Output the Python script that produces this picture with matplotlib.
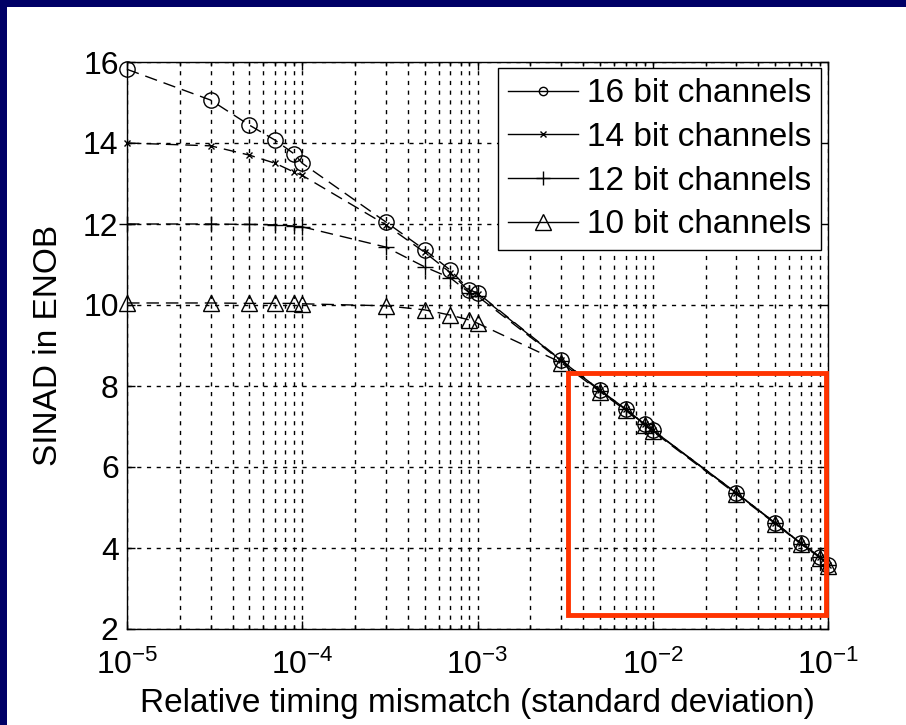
import matplotlib
matplotlib.use('Agg')
import matplotlib.pyplot as plt
from matplotlib.lines import Line2D
from matplotlib.patches import Rectangle
from matplotlib.ticker import LogLocator

plt.rcParams['font.family'] = ['Liberation Sans', 'DejaVu Sans']
plt.rcParams['mathtext.fontset'] = 'custom'
plt.rcParams['mathtext.rm'] = 'Liberation Sans'
plt.rcParams['mathtext.it'] = 'Liberation Sans:italic'
plt.rcParams['mathtext.bf'] = 'Liberation Sans:bold'

# timing mismatch (std dev) and ENOB for each channel resolution
mismatch = [1e-5, 3e-5, 5e-5, 7e-5, 9e-5, 1e-4, 3e-4, 5e-4, 7e-4, 9e-4, 1e-3,
            3e-3, 5e-3, 7e-3, 9e-3, 1e-2, 3e-2, 5e-2, 7e-2, 9e-2, 1e-1]
enob16 = [15.82, 15.06, 14.44, 14.07, 13.73, 13.5, 12.05, 11.36, 10.86, 10.37, 10.3,
          8.64, 7.9, 7.43, 7.06, 6.91, 5.36, 4.62, 4.12, 3.78, 3.58]
enob14 = [14.0, 13.93, 13.7, 13.5, 13.28, 13.2, 11.98, 11.3, 10.8, 10.33, 10.28,
          8.63, 7.9, 7.43, 7.06, 6.91, 5.36, 4.62, 4.12, 3.78, 3.58]
enob12 = [12.0, 12.0, 11.99, 11.98, 11.95, 11.93, 11.43, 10.94, 10.67, 10.3, 10.22,
          8.62, 7.88, 7.42, 7.05, 6.9, 5.35, 4.61, 4.11, 3.77, 3.57]
enob10 = [10.05, 10.05, 10.04, 10.04, 10.04, 10.03, 9.98, 9.88, 9.75, 9.63, 9.55,
          8.58, 7.86, 7.4, 7.03, 6.88, 5.33, 4.6, 4.1, 3.76, 3.55]
labels = ['16 bit channels', '14 bit channels', '12 bit channels', '10 bit channels']

# red highlight box (data coords)
box_x = [3.3e-3, 9.75e-2]
box_y = [2.35, 8.32]

fig = plt.figure(figsize=(9.06, 7.25), dpi=100)
fig.patch.set_facecolor('#000066')
fig.add_artist(Rectangle((7 / 906, 0), 1, (725 - 7) / 725, transform=fig.transFigure,
                         facecolor='white', edgecolor='none', zorder=-10))

ax = fig.add_axes([127 / 906, 96 / 725, 701 / 906, 567 / 725])
dash = (0, (9, 5))
styles = [
    dict(marker='o', ms=11, mfc='none'),
    dict(marker='x', ms=5),
    dict(marker='+', ms=12),
    dict(marker='^', ms=12, mfc='none'),
]
leg_ms = [6, 5, 10, 11]
series = [enob16, enob14, enob12, enob10]
for y, st in zip(series, styles):
    ax.plot(mismatch, y, color='black', lw=1, ls=dash, mec='black', mew=1, clip_on=False, **st)

ax.set_xscale('log')
ax.set_xlim(1e-5, 1e-1)
ax.set_ylim(2, 16)
ax.set_yticks([2, 4, 6, 8, 10, 12, 14, 16])
ax.xaxis.set_major_locator(LogLocator(base=10, numticks=10))
ax.xaxis.set_minor_locator(LogLocator(base=10, subs=range(2, 10), numticks=50))

ax.grid(True, which='major', axis='both', color='black', ls=(0, (3, 4)), lw=1)
ax.grid(True, which='minor', axis='x', color='black', ls=(0, (3, 4)), lw=1)
ax.tick_params(which='both', direction='in', top=True, right=True, labelsize=23,
               width=1, color='black')
ax.tick_params(which='major', length=6)
ax.tick_params(which='minor', length=3)
ax.tick_params(axis='x', which='major', pad=15)
ax.tick_params(axis='y', which='major', pad=6)
for s in ax.spines.values():
    s.set_linewidth(1)

ax.set_xlabel('Relative timing mismatch (standard deviation)', fontsize=24, labelpad=5)
ax.set_ylabel('SINAD in ENOB', fontsize=24, labelpad=14)

handles = []
for st, m in zip(styles, leg_ms):
    h = dict(st)
    h['ms'] = m
    handles.append(Line2D([], [], color='black', lw=1, mec='black', **h))
leg = ax.legend(handles, labels, loc='upper right', bbox_to_anchor=(0.99, 0.989),
                borderaxespad=0, fontsize=24, handlelength=2.1, handletextpad=0.25,
                labelspacing=0.38, borderpad=0.3, fancybox=False, framealpha=1,
                edgecolor='black')
leg.get_frame().set_linewidth(1)

ax.add_patch(Rectangle((box_x[0], box_y[0]), box_x[1] - box_x[0], box_y[1] - box_y[0],
                       fill=False, edgecolor='#ff3300', lw=3.5, zorder=5, clip_on=False))

fig.savefig('out.png', dpi=100, facecolor=fig.get_facecolor())
